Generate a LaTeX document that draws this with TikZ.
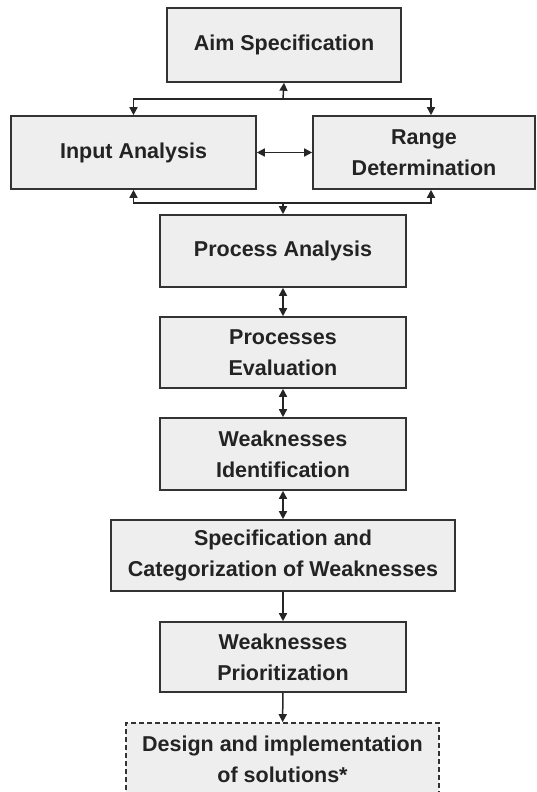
\documentclass[tikz,border=0pt]{standalone}
\usepackage{fontspec}
\setmainfont{Liberation Sans}
\usetikzlibrary{arrows.meta}

\definecolor{boxfill}{HTML}{EEEEEE}
\definecolor{boxline}{HTML}{333333}
\definecolor{boxtext}{HTML}{232323}

\begin{document}
\begin{tikzpicture}[x = 1pt, y = -1pt,
        stage/.style = {draw = boxline, line width = 1.6pt, fill = boxfill, text = boxtext,
            align = center, inner sep = 0pt, font = \fontsize{21.5}{31}\selectfont\bfseries},
        link/.style = {draw = black!85, line width = 1.5pt, -{Triangle[length = 8pt, width = 8pt]}},
        twoway/.style = {link, {Triangle[length = 8pt, width = 8pt]}-{Triangle[length = 8pt, width = 8pt]}}]
        \useasboundingbox (0,0) rectangle (537,792);
        \clip (0,0) rectangle (537,792);

        \node[stage, minimum width = 234pt, minimum height = 74pt] (aim) at (284,45) {Aim Specification};
        \node[stage, minimum width = 245pt, minimum height = 73pt] (input) at (133.5,152.5) {Input Analysis};
        \node[stage, minimum width = 222pt, minimum height = 73pt] (range) at (424,152.5) {Range\\Determination};
        \node[stage, minimum width = 246pt, minimum height = 72pt] (analysis) at (283,251) {Process Analysis};
        \node[stage, minimum width = 246pt, minimum height = 71pt] (evaluation) at (283,352.5) {Processes\\Evaluation};
        \node[stage, minimum width = 246pt, minimum height = 72pt] (identification) at (283,454) {Weaknesses\\Identification};
        \node[stage, minimum width = 344pt, minimum height = 71pt] (categorization) at (283,555.5) {Specification and\\Categorization of Weaknesses};
        \node[stage, minimum width = 246pt, minimum height = 70pt] (prioritization) at (283,657) {Weaknesses\\Prioritization};
        \node[stage, dash pattern = on 5pt off 3pt, minimum width = 313pt, minimum height = 72pt] (solutions) at (282.5,759) {Design and implementation\\of solutions*};

        % forks above and below the two side boxes
        \coordinate (upfork) at (283,99);
        \coordinate (downfork) at (283,203);

        \draw[link] (upfork) -- (aim.south);
        \draw[link] (upfork) -| (input.north);
        \draw[link] (upfork) -| ([xshift = 7pt]range.north);
        \draw[twoway] (input) -- (range);
        \draw[link] (downfork) -| (input.south);
        \draw[link] (downfork) -| ([xshift = 7pt]range.south);
        \draw[link] (downfork) -- (analysis.north);

        \draw[twoway] (analysis) -- (evaluation);
        \draw[twoway] (evaluation) -- (identification);
        \draw[twoway] (identification) -- (categorization);
        \draw[link] (categorization) -- (prioritization);
        \draw[link] (prioritization) -- (solutions);
    \end{tikzpicture}
\end{document}
